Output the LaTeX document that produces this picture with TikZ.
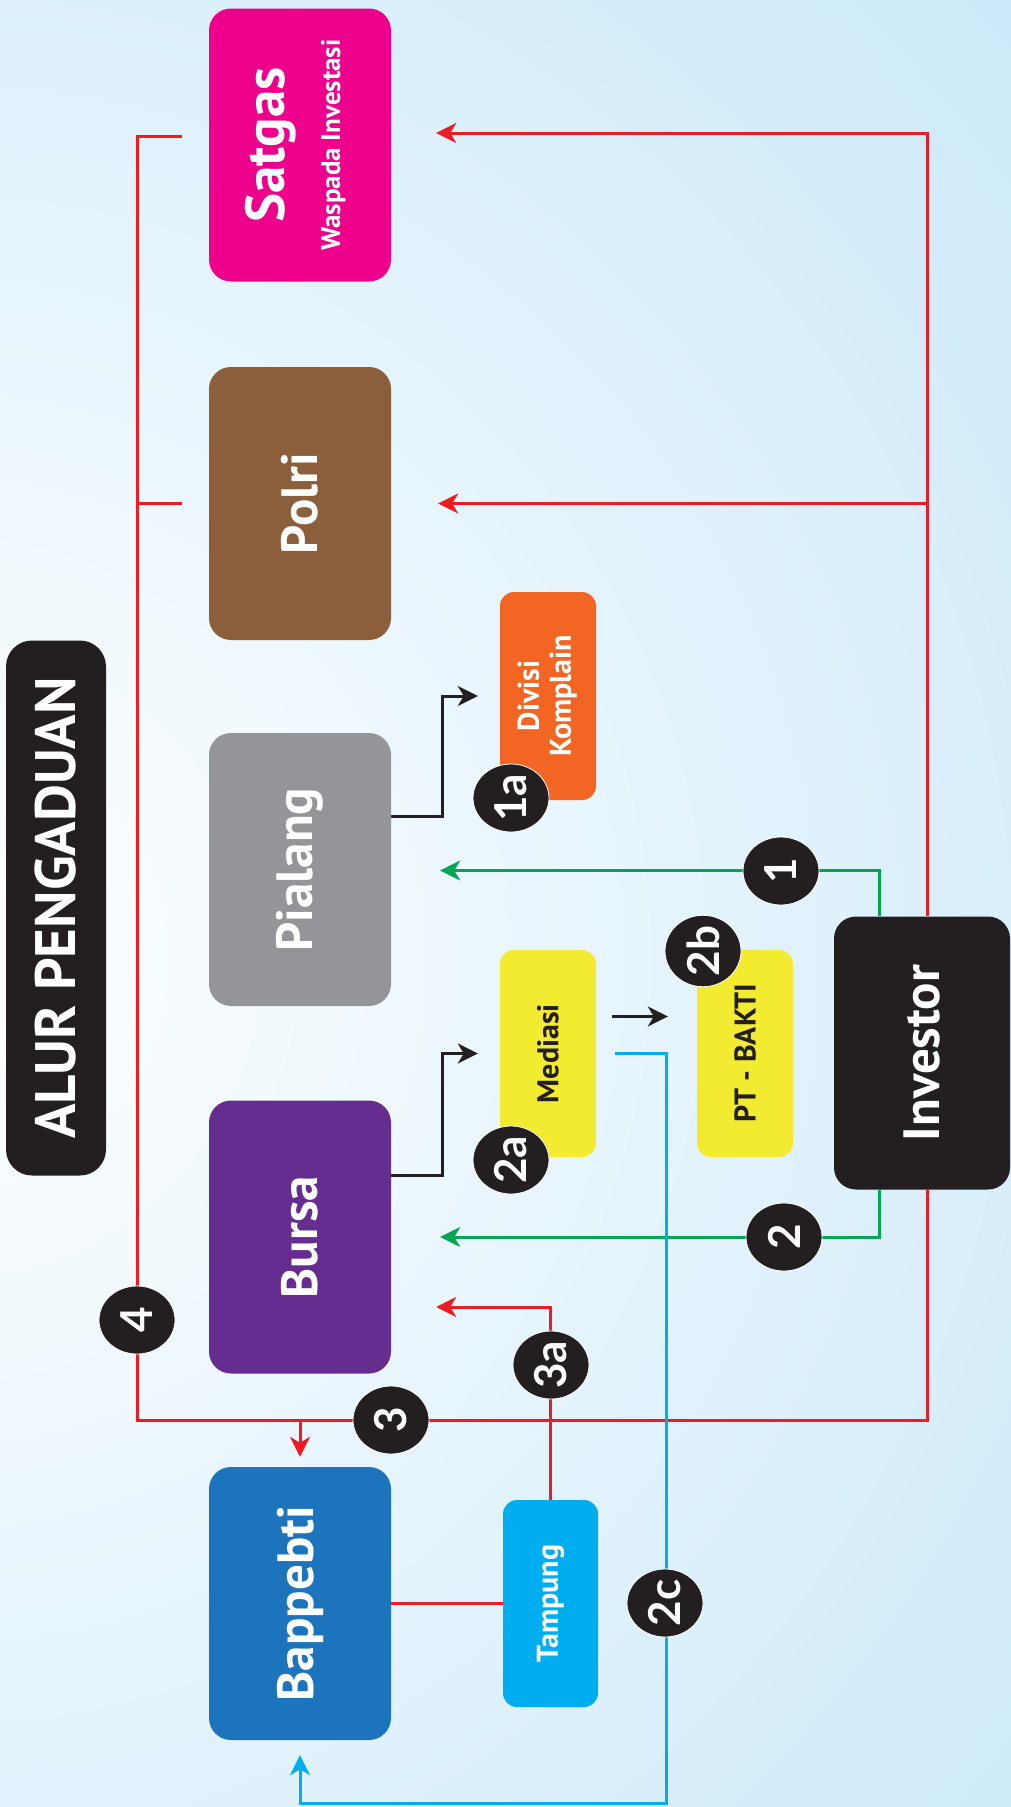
\documentclass[tikz,border=0pt]{standalone}
\usepackage{fontspec}
\setmainfont{PT Sans}
\newfontfamily\badgefont{Lato}
\usepackage{graphicx}
\usetikzlibrary{arrows.meta,shapes.geometric}
\definecolor{bgblue}{HTML}{C2E5F8}
\definecolor{cMag}{HTML}{EC008C}
\definecolor{cBrown}{HTML}{8B5E3C}
\definecolor{cGray}{HTML}{939598}
\definecolor{cPurple}{HTML}{662D91}
\definecolor{cBlue}{HTML}{1C75BC}
\definecolor{cCyan}{HTML}{00AEEF}
\definecolor{cOrange}{HTML}{F26522}
\definecolor{cYellow}{HTML}{F2EB2F}
\definecolor{cBlack}{HTML}{231F20}
\definecolor{cRed}{HTML}{ED1C24}
\definecolor{cGreen}{HTML}{00A651}
\newcommand{\fsz}[2]{\fontsize{#1}{#2}\selectfont}
\newcommand{\up}[1]{\rotatebox{90}{#1}}
\pgfdeclarelayer{bg}
\pgfdeclarelayer{lines}
\pgfsetlayers{bg,lines,main}
\begin{document}
\begin{tikzpicture}[x=1pt,y=-1pt,
  bigbox/.style={rounded corners=22, minimum width=182, minimum height=273, inner sep=0, text=white, font=\bfseries\fsz{51}{60}},
  smallbox/.style={rounded corners=14, minimum width=96, minimum height=207, inner sep=0, font=\bfseries\fsz{30}{34}},
  badge/.style={ellipse, fill=cBlack, draw=white, line width=0.8, minimum width=76, minimum height=68, inner sep=0, text=white, font=\badgefont\bfseries\fsz{44}{50}},
  arr/.style={-{Stealth[length=20pt,width=20pt,inset=6pt]}},
  redl/.style={draw=cRed, line width=3},
  greenl/.style={draw=cGreen, line width=3},
  blackl/.style={draw=cBlack, line width=3},
  cyanl/.style={draw=cCyan, line width=3}]
\useasboundingbox (0,0) rectangle (1011,1807);
\begin{pgfonlayer}{bg}
  \fill[bgblue] (0,0) rectangle (1011,1807);
  \begin{scope}
    \clip (0,0) rectangle (1011,1807);
    \shade[inner color=white, outer color=bgblue] (-60,960) circle (1700);
  \end{scope}
\end{pgfonlayer}

% title
\node[fill=cBlack, rounded corners=26, minimum width=100, minimum height=535, inner sep=0, text=white, font=\bfseries\fsz{57}{60}] (title) at (56,908) {\up{ALUR PENGADUAN}};

% main boxes
\node[bigbox, fill=cMag] (Satgas) at (300,145) {\up{\begin{tabular}{@{}c@{}}\fsz{55}{55}Satgas\\[-4pt]\fsz{27}{32}Waspada Investasi\end{tabular}}};
\node[bigbox, fill=cBrown] (Polri) at (300,503.5) {\up{Polri}};
\node[bigbox, fill=cGray] (Pialang) at (300,869.5) {\up{Pialang}};
\node[bigbox, fill=cPurple] (Bursa) at (300,1237) {\up{Bursa}};
\node[bigbox, fill=cBlue] (Bappebti) at (300,1603.5) {\up{Bappebti}};
\node[bigbox, fill=cBlack, minimum width=176] (Investor) at (922,1053) {\up{Investor}};

% small boxes
\node[smallbox, fill=cOrange, text=white, minimum height=208] (Divisi) at (548,696) {\up{\begin{tabular}{@{}c@{}}Divisi\\[-2pt]Komplain\end{tabular}}};
\node[smallbox, fill=cYellow, text=cBlack] (Mediasi) at (548,1053.5) {\up{Mediasi}};
\node[smallbox, fill=cYellow, text=cBlack] (PT) at (745,1053.5) {\up{PT - BAKTI}};
\node[smallbox, fill=cCyan, text=white, minimum width=95] (Tampung) at (550.5,1603.5) {\up{Tampung}};

% helper coordinates
\coordinate (rtop) at (927,133);
\coordinate (rbot) at (927,1420);
\coordinate (lbot) at (137,1420);
\coordinate (ltop) at (137,136);
\coordinate (gx) at (879,0);
\coordinate (cbot) at (666,1803);

\begin{pgfonlayer}{lines}
  % red
  \draw[redl,arr] (Investor.north -| rtop) -- (rtop) -- ([xshift=45pt,yshift=12pt]Satgas.east);
  \draw[redl,arr] (rtop |- Polri.east) -- ([xshift=47pt]Polri.east);
  \draw[redl] (Investor.south -| rbot) -- (rbot) -- (lbot) -- (ltop) -- ([xshift=-27pt,yshift=9pt]Satgas.west);
  \draw[redl] (lbot |- Polri.west) -- ([xshift=-27pt]Polri.west);
  \draw[redl,arr] (lbot -| Bappebti.north) -- ([yshift=10pt]Bappebti.north);
  \draw[redl] (Bappebti.east) -- (Tampung.west);
  \draw[redl,arr] (Tampung.north) |- ([xshift=45pt,yshift=-70pt]Bursa.east);
  % green
  \draw[greenl,arr] (Investor.north -| gx) |- ([xshift=49pt,yshift=-1pt]Pialang.east);
  \draw[greenl,arr] (Investor.south -| gx) |- ([xshift=49pt]Bursa.east);
  % black
  \draw[blackl,arr] ([yshift=53pt]Pialang.east) -- ++(51,0) |- ([xshift=-22pt]Divisi.west);
  \draw[blackl,arr] ([yshift=62pt]Bursa.east) -- ++(51,0) |- ([xshift=-22pt]Mediasi.west);
  \draw[blackl,arr] ([xshift=16pt,yshift=37pt]Mediasi.east) -- ([xshift=-29pt,yshift=37pt]PT.west);
  % cyan
  \draw[cyanl,arr] ([xshift=19pt]Mediasi.east) -| (cbot) -| ([yshift=-15pt]Bappebti.south);
\end{pgfonlayer}

% badges
\node[badge] (b1) at (781,871) {\up{1}};
\node[badge] (b1a) at (511,798) {\up{1a}};
\node[badge] (b2) at (784,1237) {\up{2}};
\node[badge] (b2a) at (511,1160) {\up{2a}};
\node[badge] (b2b) at (703,951) {\up{2b}};
\node[badge] (b2c) at (665,1603) {\up{2c}};
\node[badge] (b3) at (391,1420) {\up{3}};
\node[badge] (b3a) at (551,1365) {\up{3a}};
\node[badge] (b4) at (137,1320) {\up{4}};
\end{tikzpicture}
\end{document}
